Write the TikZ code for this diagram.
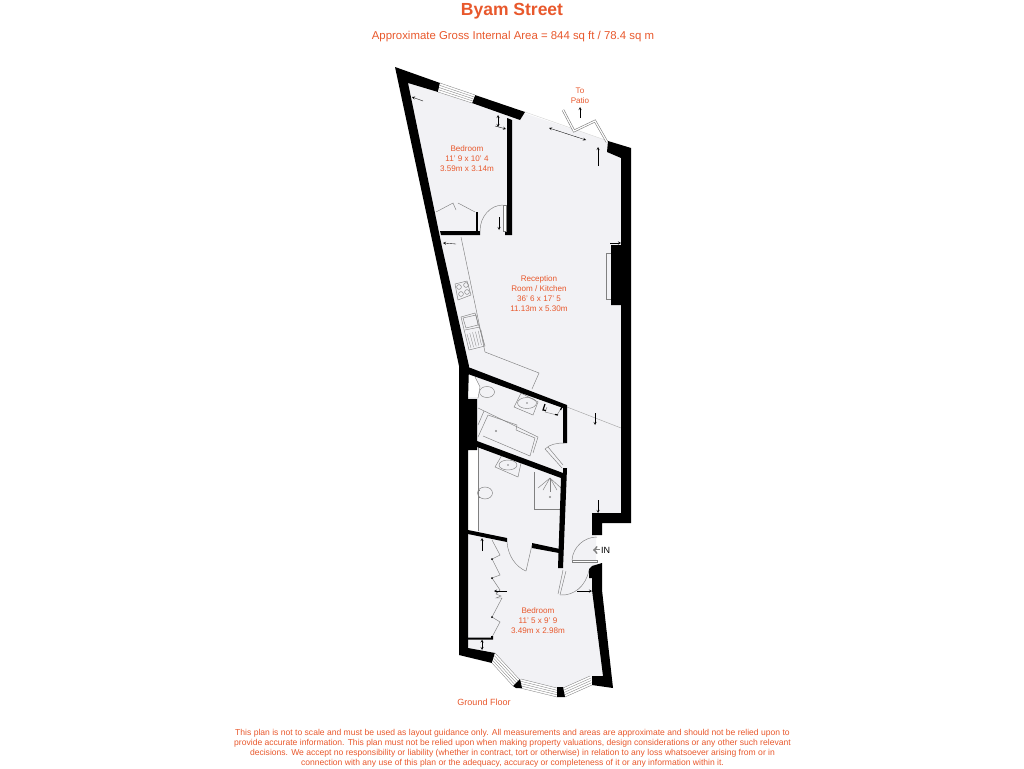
\documentclass[tikz,border=0pt]{standalone}
\usepackage{fontspec}
\setmainfont{Liberation Sans}
\usetikzlibrary{calc}
\definecolor{planred}{HTML}{E8582C}
\definecolor{floorgrey}{HTML}{F2F2F5}
\definecolor{fitgrey}{HTML}{808080}
\tikzset{
  wall/.style={fill=black,draw=none},
  fitting/.style={draw=fitgrey,line width=0.45pt},
  leaf/.style={draw=fitgrey,fill=white,line width=0.45pt},
  measure/.style={draw=black,line width=0.35pt,>=stealth},
  planlabel/.style={text=planred,align=center,inner sep=0pt,font=\fontsize{8.1}{10}\selectfont}
}
\newcommand{\glazing}[4]{%
  \fill[white] (#1) -- (#2) -- (#3) -- (#4) -- cycle;
  \foreach \t in {0,0.25,0.5,0.75,1}
    \draw[draw=fitgrey,line width=0.35pt] ($(#1)!\t!(#4)$) -- ($(#2)!\t!(#3)$);
}
\begin{document}
\begin{tikzpicture}[x=1pt,y=-1pt]
        \useasboundingbox (0,0) rectangle (1024,768);
        %% Titles
        \node[planlabel,font=\fontsize{17.5}{20}\selectfont\bfseries] (title) at (512,11.5) {Byam Street};
        \node[planlabel,font=\fontsize{11.4}{13}\selectfont] (area) at (513,36.5) {Approximate Gross Internal Area = 844 sq ft / 78.4 sq m};
        %% Floor
        \fill[floorgrey] (400,72) -- (608,141) -- (625,150) -- (625,518) -- (596,518) -- (596,580) -- (605,680)
          -- (590,680) -- (558,690) -- (515,685) -- (493,655) -- (462,650) -- (462,370) -- cycle;
        %% Kitchen units
        \draw[fitting] (461,237) -- (485,352) -- (539,373) -- (532,389);
        \draw[fitting] (455,284) -- (467,281) -- (471,295) -- (458,300) -- cycle;
        \foreach \hx/\hy in {459/287,466/285,461/294,467/292}
          \draw[fitting] (\hx,\hy) circle (2.4);
        \draw[fitting] (461,317) -- (475,313) -- (485,346) -- (469,350) -- cycle;
        \draw[fitting] (463,318) -- (476,315) -- (478,325) -- (466,328) -- cycle;
        \draw[fitting] (465,330) -- (480,327);
        \foreach \t in {0,0.2,0.4,0.6,0.8,1}
          \draw[fitting,line width=0.3pt] ($(467,334)!\t!(481,330)$) -- ($(471,348)!\t!(484,344)$);
        %% Fireplace
        \draw[fitting] (606,253) rectangle (611,299);
        %% Hall threshold and patio line
        \draw[fitting,draw=fitgrey!70] (567,407) -- (621,428);
        \draw[draw=fitgrey!35,line width=0.4pt] (525,112) -- (608,141);
        %% Wardrobes
        \draw[fitting] (436,212) -- (453,203) -- (456,210) (458,203) -- (475,212);
        \draw[fitting] (492,540) -- (500,555) -- (492,559) -- (500,575) -- (492,578) -- (500,590) -- (496,594)
          -- (501,596) -- (496,598) -- (502,598) -- (492,617) -- (500,622) -- (492,637);
        %% Bathroom fittings
        \fill[white] (468,375) -- (475,377) -- (480,387) -- (478,398) -- (468,398) -- cycle;
        \draw[fitting] (475,377) -- (480,387) -- (478,398) -- (468,398);
        \draw[fitting,fill=floorgrey] (487,392) ellipse (7.5 and 5.5);
        \draw[fitting] (521,393) -- (538,402) -- (533,415) -- (514,407) -- cycle;
        \draw[fitting] (527,403) ellipse (9.5 and 5.5);
        \fill (527,403) circle (0.7);
        \draw[fitting] (478,408) -- (538,437) -- (533,453);
        \draw[fitting] (478,437) -- (488,415) -- (517,425) -- (516,430) -- (535,438) -- (530,456) -- (483,436);
        \draw[fitting] (484,411) -- (478,425);
        \draw[fitting] (496,431) circle (0.9);
        \draw[fitting] (502,455) -- (521,463) -- (518,477) -- (495,467) -- cycle;
        \draw[fitting] (508,465) ellipse (9 and 5);
        \fill (508,465) circle (0.7);
        \fill[white] (468,450) rectangle (478,531);
        \draw[fitting] (478,447) -- (478,531);
        \draw[fitting] (485,493) ellipse (7.5 and 6);
        \draw[fitting] (478,490) -- (480,490) (478,497) -- (480,497);
        \draw[fitting] (534,472) -- (534,509) -- (563,509);
        \foreach \sx/\sy in {538/488,543/490,550/492,557/490,561/488}
          \draw[fitting] (550,478) -- (\sx,\sy);
        \draw[fitting] (550,497) circle (0.9);
        %% Outer walls
        \fill[wall] (395,67) -- (440,83) -- (438,92) -- (408,83) -- (442,247) -- (469,366) -- (468,399)
          -- (477,399) -- (477,450) -- (468,450) -- (468,648) -- (495,653) -- (492,663) -- (459,655) -- (459,366) -- cycle;
        \fill[wall] (475,95) -- (525,112) -- (520,120) -- (472,103) -- cycle;
        \fill[wall] (608,141) -- (631,148) -- (631,523) -- (602,523) -- (602,535) -- (592,535) -- (592,513)
          -- (621,513) -- (621,305) -- (611,305) -- (611,245) -- (621,245) -- (621,158) -- (607,152) -- cycle;
        \fill[wall] (592,566) -- (602,563) -- (602,590) -- (613,688) -- (592,685) -- (592,676) -- (603,676)
          -- (592,590) -- (592,578) -- (589,578) -- (589,569) -- cycle;
        %% Bay windows
        \glazing{495,653}{520,680}{513,686}{492,663}
        \glazing{521,679}{557,688}{557,697}{516,687}
        \glazing{563,688}{590,676}{592,685}{565,697}
        \fill[wall] (513,686) -- (520,679) -- (522,688) -- (516,688) -- cycle;
        \fill[wall] (557,687) -- (563,687) -- (565,697) -- (557,697) -- cycle;
        %% Top window
        \glazing{440,83}{475,95}{472,103}{438,92}
        %% Inner walls
        \fill[wall] (507,118) -- (512,120) -- (512,235) -- (505,235) -- (505,231) -- (507,231) -- cycle;
        \fill[wall] (440,231) -- (480,231) -- (480,235) -- (441,235) -- cycle;
        \fill[wall] (475.5,212) -- (477.5,212) -- (477.5,232) -- (475.5,232) -- cycle;
        \fill[wall] (468,367) -- (567,405) -- (567,443) -- (563,443) -- (563,408) -- (468,374) -- cycle;
        \fill[wall] (477,441) -- (563,473) -- (563,468) -- (567,468) -- (563,568) -- (558,568) -- (561,478) -- (477,447) -- cycle;
        \fill[wall] (468,530) -- (507,538) -- (507,542) -- (468,534) -- cycle;
        \fill[wall] (532,543) -- (560,549) -- (559,553) -- (532,548) -- cycle;
        \fill[wall] (468,637.5) -- (491,637.5) -- (491,636) -- (493,636) -- (493,639.5) -- (468,639.5) -- cycle;
        %% Cupboard in the bathroom
        \draw[fitting] (547,407) -- (545,412) -- (557,415) -- (562,407);
        \draw[line width=1.2pt] (545,404) -- (543,410) -- (546,410.5) (555,414.5) -- (558,415) (560.5,410) -- (562,407);
        %% Wardrobe hinges
        \foreach \wx/\wy in {492/559,492/578,492/617}
          \fill (\wx,\wy) circle (1);
        %% Doors
        \draw[leaf] (503,205) rectangle (506,231);
        \draw[fitting] (503,205) arc[start angle=270,end angle=180,x radius=23,y radius=26];
        \draw[fitting] (545,449) -- (562,468) (548,447) -- (563,465);
        \draw[fitting] (545,449) .. controls (550,444) and (557,443) .. (565,443);
        \draw[fitting] (532,545) -- (526,571);
        \draw[fitting] (507,542) .. controls (508,556) and (516,567) .. (526,571);
        \draw[fitting] (566,571) -- (560,595) (563,570) -- (558,594);
        \draw[fitting] (560,595) .. controls (574,596) and (586,586) .. (589,570);
        \draw[leaf] (572,560) rectangle (597,562);
        \draw[fitting] (572,560) .. controls (573,547) and (584,537) .. (597,537);
        %% Patio doors
        \draw[line width=2.4pt,draw=fitgrey] (563,110) -- (574,131) -- (595,121) -- (607,142);
        \draw[white,line width=1.2pt] (563,110) -- (574,131) -- (595,121) -- (607,142);
        %% Measures
        \draw[measure,<-] (412,97) -- (423,101);
        \draw[measure,<->] (498,115) -- (498,127);
        \draw[measure,->] (495,126) -- (506,129);
        \draw[measure,->] (499,217) -- (499,230);
        \draw[measure,<-] (443,243) -- (456,244);
        \draw[measure,->] (610,243) -- (621,243);
        \draw[measure,<->] (549,128) -- (586,140);
        \draw[measure,->] (580,118) -- (580,107);
        \draw[measure,->] (598,166) -- (598,147);
        \draw[measure,->] (595,413) -- (595,425);
        \draw[measure,->] (598,500) -- (598,513);
        \draw[measure,->] (482,551) -- (482,538);
        \draw[measure,<->] (482,639.5) -- (482,650);
        \draw[measure,->] (507,591) -- (494,591);
        \draw[measure,->] (577,591) -- (592,591);
        %% Entrance
        \draw[fitgrey,line width=0.5pt,double,double distance=0.8pt,->] (600,550) -- (593,550);
        \node[inner sep=0pt,font=\fontsize{9}{10}\selectfont] (entry) at (605.5,550) {IN};
        %% Room labels
        \node[planlabel] (patio) at (580,95.5) {To\\Patio};
        \node[planlabel] (bedroomtop) at (467,158.5) {Bedroom\\11' 9 x 10' 4\\3.59m x 3.14m};
        \node[planlabel] (reception) at (539,293.5) {Reception\\Room / Kitchen\\36' 6 x 17' 5\\11.13m x 5.30m};
        \node[planlabel] (bedroomlow) at (538,621) {Bedroom\\11' 5 x 9' 9\\3.49m x 2.98m};
        \node[planlabel,font=\fontsize{9}{10}\selectfont] (floorname) at (484,702) {Ground Floor};
        %% Disclaimer
        \node[planlabel,font=\fontsize{8.56}{10}\selectfont] (disclaimer) at (512.5,748) {This plan is not to scale and must be used as layout guidance only. All measurements and areas are approximate and should not be relied upon to\\
        provide accurate information. This plan must not be relied upon when making property valuations, design considerations or any other such relevant\\
        decisions. We accept no responsibility or liability (whether in contract, tort or otherwise) in relation to any loss whatsoever arising from or in\\
        connection with any use of this plan or the adequacy, accuracy or completeness of it or any information within it.};
\end{tikzpicture}
\end{document}
